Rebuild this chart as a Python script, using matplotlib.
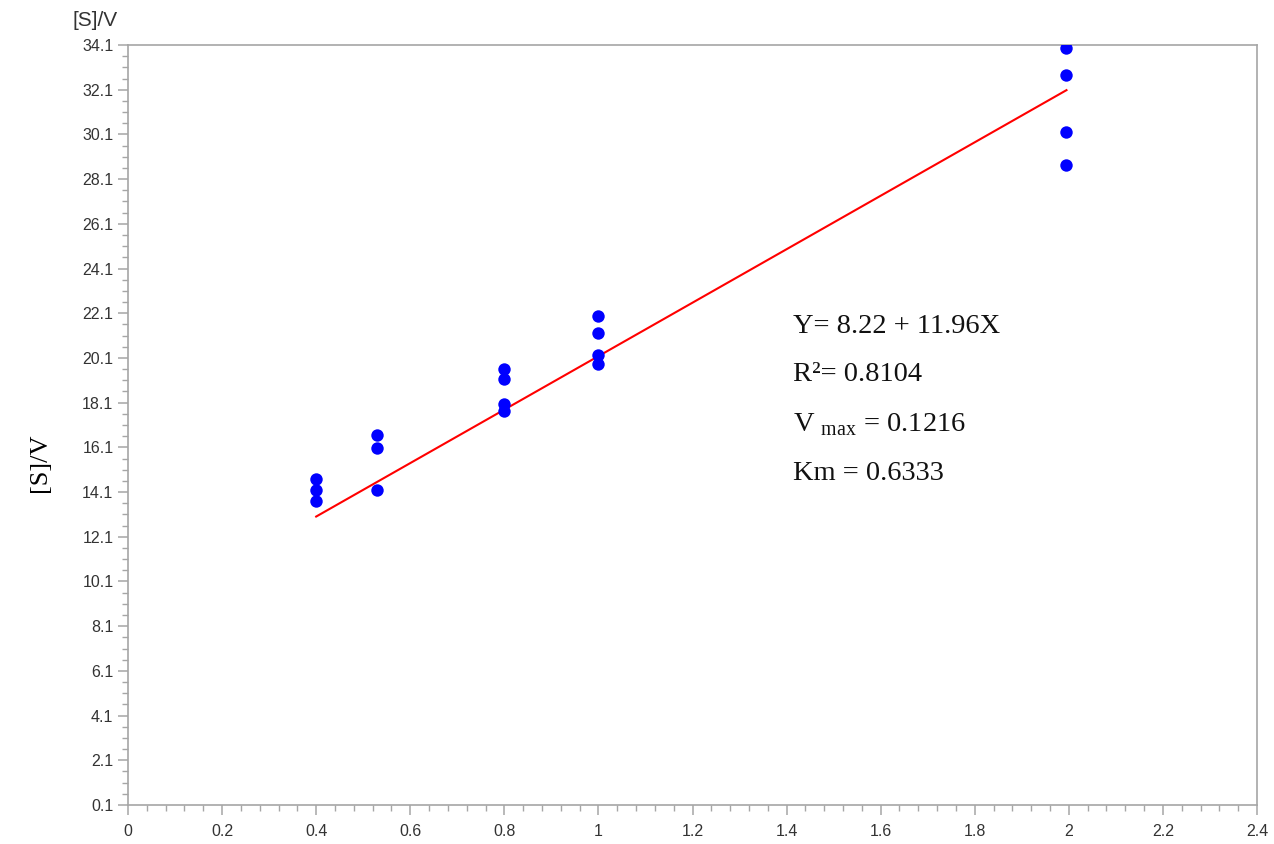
import numpy as np
import matplotlib.pyplot as plt
from matplotlib.ticker import MultipleLocator, FixedLocator, FuncFormatter

plt.rcParams["mathtext.fontset"] = "custom"
plt.rcParams["mathtext.rm"] = "Liberation Serif"

# Substrate concentration groups and [S]/V readings (Hanes-Woolf plot)
s_vals = [0.4, 0.4, 0.4,
          0.53, 0.53, 0.53,
          0.8, 0.8, 0.8, 0.8,
          1.0, 1.0, 1.0, 1.0,
          1.995, 1.995, 1.995, 1.995]
sv_vals = [14.67, 14.19, 13.72,
           16.65, 16.06, 14.19,
           19.59, 19.15, 18.03, 17.73,
           21.98, 21.20, 20.23, 19.83,
           33.96, 32.78, 30.23, 28.73]

# Fitted line Y = a + bX
intercept = 8.22
slope = 11.96
fit_x = [0.4, 1.995]

y_ticks = [0.1 + 2 * i for i in range(18)]
x_ticks = [0, 0.2, 0.4, 0.6, 0.8, 1.0, 1.2, 1.4, 1.6, 1.8, 2.0, 2.2, 2.4]

fig = plt.figure(figsize=(12.74, 8.44), dpi=100)
ax = fig.add_axes([128 / 1274, 1 - 805 / 844, (1257 - 128) / 1274, (805 - 45) / 844])

ax.scatter(s_vals, sv_vals, s=80, color="#0000ff", zorder=3, linewidths=0)
fx = np.array(fit_x)
ax.plot(fx, intercept + slope * fx, color="#ff0000", lw=1.5, zorder=2)

ax.set_xlim(0, 2.4)
ax.set_ylim(0.1, 34.1)
ax.yaxis.set_major_locator(FixedLocator(y_ticks))
ax.yaxis.set_minor_locator(MultipleLocator(0.5, offset=0.1))
ax.xaxis.set_major_locator(FixedLocator(x_ticks))
ax.xaxis.set_minor_locator(MultipleLocator(0.04))
ax.yaxis.set_major_formatter(FuncFormatter(lambda v, p: f"{v:.1f}"))
ax.xaxis.set_major_formatter(FuncFormatter(lambda v, p: f"{v:g}"))

grey = "#a6a6a6"
for sp in ax.spines.values():
    sp.set_color(grey)
    sp.set_linewidth(1.2)
ax.tick_params(which="major", length=7, width=1.1, color=grey,
               labelsize=11.5, labelcolor="#333333")
ax.tick_params(axis="x", which="major", pad=7)
ax.tick_params(which="minor", length=4, width=1.0, color=grey)
for lab in ax.get_xticklabels() + ax.get_yticklabels():
    lab.set_family("Liberation Sans")

# axis captions
fig.text(95 / 1274, 1 - 21 / 844, "[S]/V", family="Liberation Sans",
         fontsize=15, color="#333333", ha="center", va="center")
fig.text(40 / 1274, 1 - 463 / 844, "[S]/V", family="Liberation Serif",
         fontsize=19, rotation=90, ha="center", va="center")

# regression summary
serif = dict(family="Liberation Serif", fontsize=20.5, color="#111111",
             ha="left", va="baseline", transform=ax.transAxes)
ax.text(0.589, 0.621, "Y= 8.22 + 11.96X", **serif)
ax.text(0.589, 0.558, "R²= 0.8104", **serif)
ax.text(0.589, 0.492, r"V $_{\mathrm{max}}$ = 0.1216", **serif)
ax.text(0.589, 0.428, "Km = 0.6333", **serif)

fig.savefig("out.png", dpi=100)
